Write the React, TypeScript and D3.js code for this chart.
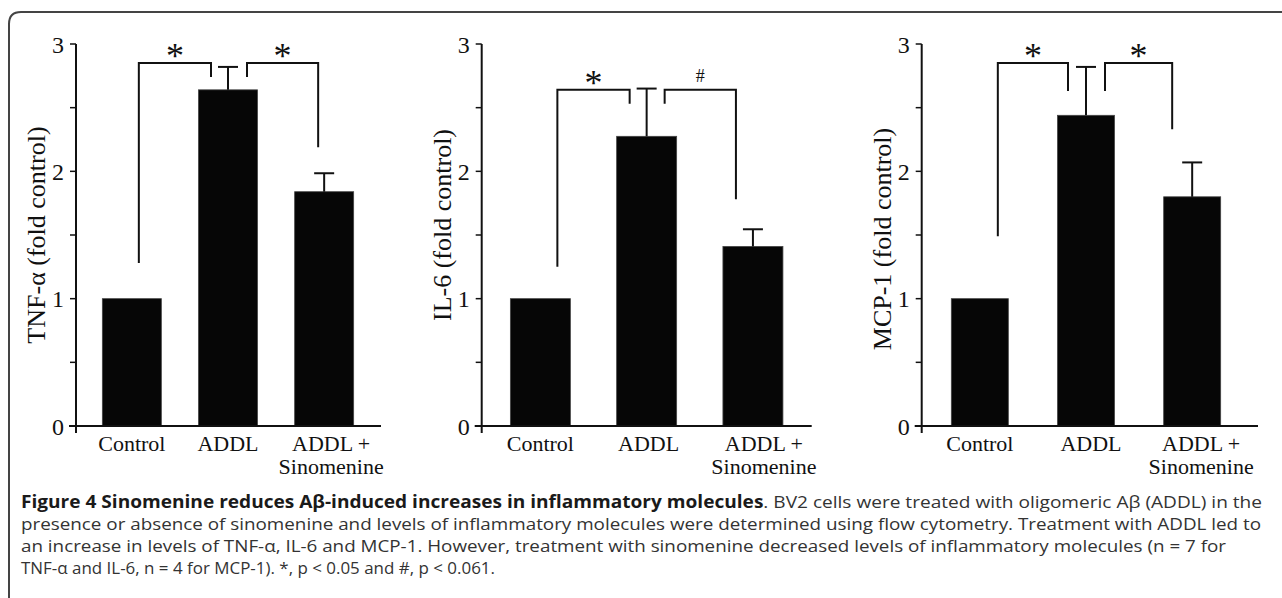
import React from "react";
import * as d3 from "d3";

// ---------- data ----------
const categories = ["Control", "ADDL", "ADDL +|Sinomenine"];
const yTicks = [0, 0.5, 1, 1.5, 2, 2.5, 3];
const yTickLabels = ["0", "", "1", "", "2", "", "3"];

const panelTitles = ["TNF-α (fold control)", "IL-6 (fold control)", "MCP-1 (fold control)"];

const tnfMeans = [1, 2.64, 1.84];
const tnfErrTops = [null, 2.82, 1.985];
const il6Means = [1, 2.275, 1.41];
const il6ErrTops = [null, 2.65, 1.545];
const mcpMeans = [1, 2.44, 1.8];
const mcpErrTops = [null, 2.82, 2.07];

// brackets: [fromIndex, toIndex, barLevel, leftLegEnd, rightLegEnd, label]
const tnfBrackets = [
  [0, 1, 2.85, 1.28, 2.74, "*"],
  [1, 2, 2.85, 2.74, 2.19, "*"],
];
const il6Brackets = [
  [0, 1, 2.64, 1.25, 2.53, "*"],
  [1, 2, 2.64, 2.53, 1.78, "#"],
];
const mcpBrackets = [
  [0, 1, 2.85, 1.49, 2.63, "*"],
  [1, 2, 2.85, 2.63, 2.33, "*"],
];

const captionBold = "Figure 4 Sinomenine reduces Aβ-induced increases in inflammatory molecules";
const captionLines = [
  ". BV2 cells were treated with oligomeric Aβ (ADDL) in the",
  "presence or absence of sinomenine and levels of inflammatory molecules were determined using flow cytometry. Treatment with ADDL led to",
  "an increase in levels of TNF-α, IL-6 and MCP-1. However, treatment with sinomenine decreased levels of inflammatory molecules (n = 7 for",
  "TNF-α and IL-6, n = 4 for MCP-1). *, p < 0.05 and #, p < 0.061.",
];

// ---------- layout ----------
const W = 1282;
const H = 598;
const Y0 = 426;
const Y3 = 44;
const panels = [
  { axisX: 76, xEnd: 381, range: [84, 372], bw: 59, means: tnfMeans, errs: tnfErrTops, brackets: tnfBrackets,
    labelX: 45, labelY: 235, legDx: [[7, -17], [19, -6]], labelDx: [0, 0, 7] },
  { axisX: 481.7, xEnd: 811.7, range: [487.5, 805.8], bw: 60, means: il6Means, errs: il6ErrTops, brackets: il6Brackets,
    labelX: 451, labelY: 225, legDx: [[17, -17], [18, -17]], labelDx: [0, 2, 11] },
  { axisX: 921.7, xEnd: 1258, range: [927, 1245], bw: 57, means: mcpMeans, errs: mcpErrTops, brackets: mcpBrackets,
    labelX: 891, labelY: 239, legDx: [[18, -18], [19, -20]], labelDx: [0, 5, 9] },
];

const serif = "'Liberation Serif', 'Times New Roman', serif";

function Panel({ p, title }: { p: any; title: string }) {
  const x = d3.scaleBand<string>().domain(categories).range(p.range).paddingInner(0.385).paddingOuter(0.19);
  const y = d3.scaleLinear().domain([0, 3]).range([Y0, Y3]);
  const cx = (i: number) => (x(categories[i]) as number) + x.bandwidth() / 2;
  return (
    <g>
      <text
        transform={`translate(${p.labelX},${p.labelY}) rotate(-90)`}
        textAnchor="middle"
        fontFamily={serif}
        fontSize={26}
        fill="#111"
      >
        {title}
      </text>
      {p.means.map((v: number, i: number) => (
        <rect
          key={i}
          x={cx(i) - p.bw / 2}
          y={y(v)}
          width={p.bw}
          height={y(0) - y(v)}
          fill="#060606"
          stroke="#444"
          strokeWidth={0.8}
        />
      ))}
      {p.errs.map((e: number | null, i: number) =>
        e == null ? null : (
          <g key={i} stroke="#111" strokeWidth={2}>
            <line x1={cx(i)} x2={cx(i)} y1={y(p.means[i])} y2={y(e)} />
            <line x1={cx(i) - 10} x2={cx(i) + 10} y1={y(e)} y2={y(e)} />
          </g>
        )
      )}
      <g stroke="#111" strokeWidth={2} fill="none">
        <line x1={p.axisX} x2={p.axisX} y1={y(3)} y2={y(0) + 7} />
        <line x1={p.axisX - 7} x2={p.xEnd} y1={y(0)} y2={y(0)} />
        {yTicks.map((t) => (
          <line key={t} x1={p.axisX - 6} x2={p.axisX} y1={y(t)} y2={y(t)} strokeWidth={1.5} />
        ))}
      </g>
      {yTicks.map((t, i) =>
        yTickLabels[i] ? (
          <text key={t} x={p.axisX - 12} y={y(t) + 8.5} textAnchor="end" fontFamily={serif} fontSize={24} fill="#111">
            {yTickLabels[i]}
          </text>
        ) : null
      )}
      {categories.map((c, i) => {
        const parts = c.split("|");
        return (
          <text key={c} textAnchor="middle" fontFamily={serif} fontSize={22} fill="#111">
            {parts.map((s, j) => (
              <tspan key={j} x={cx(i) + p.labelDx[i]} y={450.5 + j * 23.5}>
                {s}
              </tspan>
            ))}
          </text>
        );
      })}
      {p.brackets.map((b: any[], k: number) => {
        const xl = cx(b[0]) + p.legDx[k][0];
        const xr = cx(b[1]) + p.legDx[k][1];
        const isHash = b[5] === "#";
        return (
          <g key={k}>
            <path
              d={`M${xl},${y(b[3])}V${y(b[2])}H${xr}V${y(b[4])}`}
              fill="none"
              stroke="#111"
              strokeWidth={2}
            />
            <text
              x={(xl + xr) / 2}
              y={isHash ? y(b[2]) - 8 : y(b[2]) + 5}
              textAnchor="middle"
              fontFamily={serif}
              fontSize={isHash ? 18 : 36}
              fill="#111"
            >
              {b[5]}
            </text>
          </g>
        );
      })}
    </g>
  );
}

export default function App() {
  const capFont = "'Open Sans', 'Noto Sans', sans-serif";
  const lineY = [508, 530, 552, 574];
  const lineW = [1241, 1240, 1205, 474];
  return (
    <svg
      width={W}
      height={H}
      viewBox={`0 0 ${W} ${H}`}
      style={{ position: "absolute", left: 0, top: 0, background: "#fff" }}
    >
      <rect width={W} height={H} fill="#fff" />
      <path d={`M9,${H}V24Q9,12 21,12H${W}`} fill="none" stroke="#444" strokeWidth={2} />
      {panels.map((p, i) => (
        <Panel key={i} p={p} title={panelTitles[i]} />
      ))}
      <text x={21} y={lineY[0]} fontFamily={capFont} fontSize={17} fill="#333" textLength={lineW[0]} lengthAdjust="spacingAndGlyphs">
        <tspan fontWeight="bold" fill="#1a1a1a">{captionBold}</tspan>
        <tspan>{captionLines[0]}</tspan>
      </text>
      {captionLines.slice(1).map((l, i) => (
        <text
          key={i}
          x={21}
          y={lineY[i + 1]}
          fontFamily={capFont}
          fontSize={17}
          fill="#333"
          textLength={lineW[i + 1]}
          lengthAdjust="spacingAndGlyphs"
        >
          {l}
        </text>
      ))}
    </svg>
  );
}
